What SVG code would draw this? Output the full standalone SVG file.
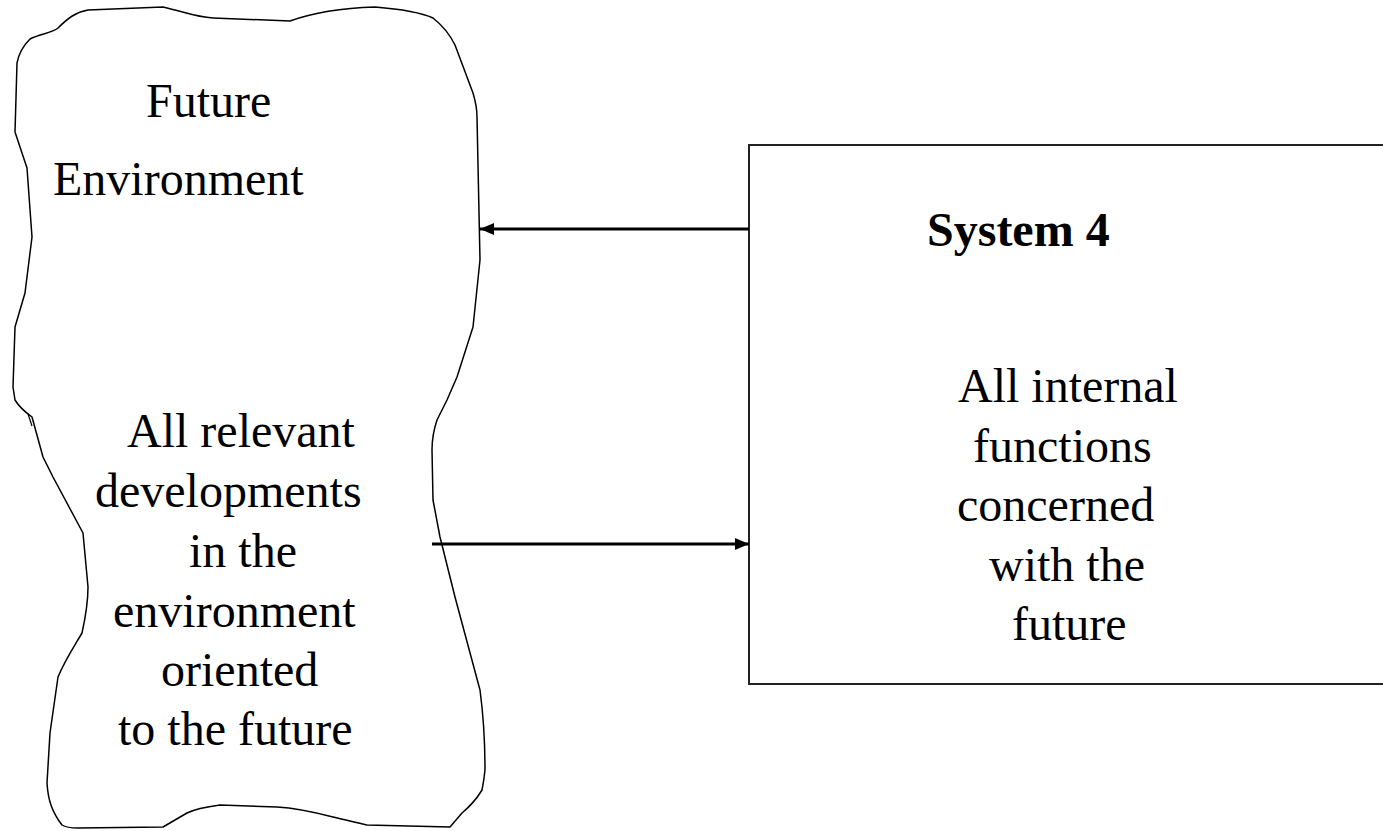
<svg xmlns="http://www.w3.org/2000/svg" width="1383" height="831" viewBox="0 0 1383 831">
<style>
text{font-family:"Liberation Serif",Tinos,"Times New Roman",Times,serif;font-size:48px;fill:#000}
.b{font-weight:bold}
.shape{fill:#fff;stroke:#000;stroke-width:1.5;stroke-linejoin:round}
.conn{stroke:#000;stroke-width:3;fill:none}
</style>
<defs>
<marker id="ah" viewBox="0 0 14 12" refX="14" refY="6" markerWidth="14" markerHeight="12" markerUnits="userSpaceOnUse" orient="auto">
<path d="M0,0 L14,6 L0,12 Z" fill="#000"/>
</marker>
</defs>
<rect width="1383" height="831" fill="#fff"/>
<g id="environment">
<path class="shape" d="M30,39 C40,34 52,33 58,28 C68,18 76,12 88,10 L163,7 C185,12 195,17 213,18 L290,21 C315,12 345,8 375,7 C400,9 420,12 433,18 C442,25 450,35 455,45 L473,93 C476,103 477,110 477,117 L480,260 L473,327 L457,377 L447,400 L437,420 C433,432 432,440 432,450 L433,500 L440,537 L455,597 L480,690 C484,720 485,750 485,770 C484,780 483,785 482,790 C476,800 468,808 462,813 L450,827 L367,825 C355,822 345,820 333,817 C310,811 295,808 277,807 L220,805 C205,807 195,809 187,813 L163,827 L78,828 C70,828 65,827 62,825 C52,812 48,800 47,783 L50,733 L58,677 C65,660 75,645 82,633 C86,615 88,600 88,587 L83,533 L53,477 L43,457 L32,417 C25,412 18,405 15,400 L13,387 L15,327 L25,293 L32,237 L27,168 L15,132 L17,63 C19,52 24,45 30,39 Z"/>
<path d="M28,414 L32,426" stroke="#000" stroke-width="1.2" fill="none"/>
<text x="146" y="117">Future</text>
<text x="53" y="195">Environment</text>
<text x="127" y="447">All relevant</text>
<text x="95" y="507">developments</text>
<text x="189" y="567">in the</text>
<text x="113" y="627">environment</text>
<text x="161" y="686">oriented</text>
<text x="118" y="745">to the future</text>
</g>
<g id="system4">
<path d="M1383,145 L749,145 L749,684 L1383,684" fill="#fff" stroke="#222" stroke-width="2"/>
<text class="b" x="927" y="246">System 4</text>
<text x="958" y="402">All internal</text>
<text x="973" y="462">functions</text>
<text x="957" y="521">concerned</text>
<text x="989" y="581">with the</text>
<text x="1012" y="640">future</text>
</g>
<g id="connectors">
<line class="conn" x1="749" y1="229" x2="480" y2="229" marker-end="url(#ah)"/>
<line class="conn" x1="432" y1="544" x2="749" y2="544" marker-end="url(#ah)"/>
</g>
</svg>
